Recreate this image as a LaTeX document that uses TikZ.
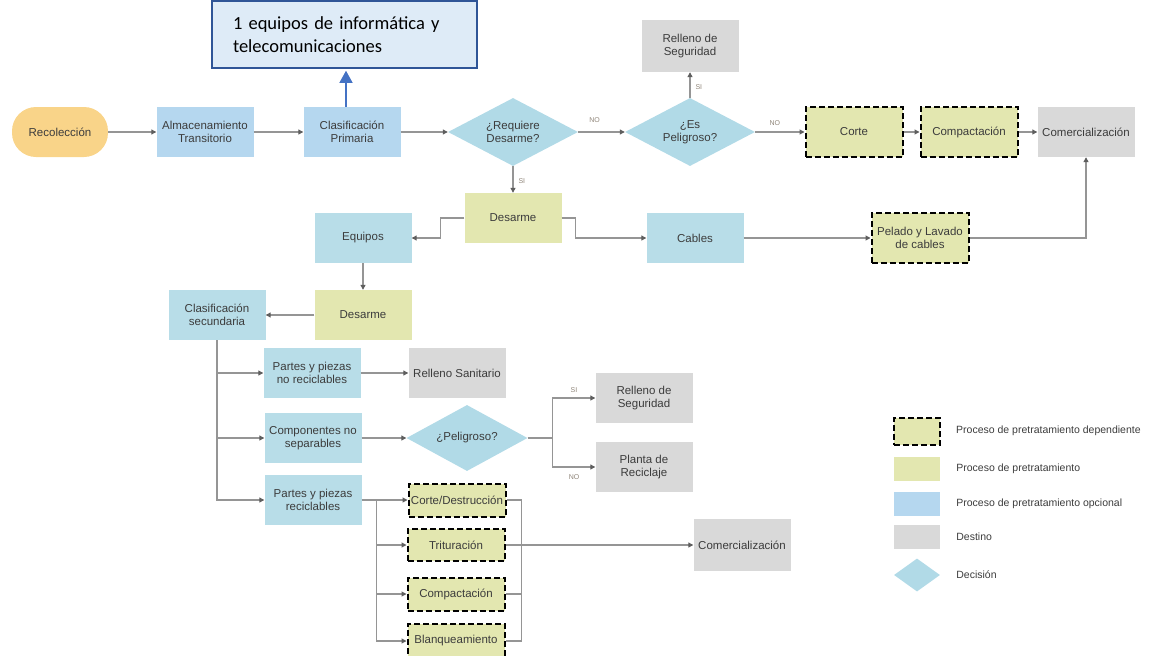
\documentclass[tikz,border=0pt]{standalone}
\usepackage{fontspec}
\setmainfont{Liberation Sans}
\newfontfamily\calfont{Carlito}
\usetikzlibrary{arrows.meta,shapes.geometric,positioning}

\definecolor{optblue}{HTML}{B5D7EF}
\definecolor{procblue}{HTML}{B8DDE8}
\definecolor{decblue}{HTML}{B1DAE7}
\definecolor{pretrat}{HTML}{E3E7B0}
\definecolor{destgray}{HTML}{D9D9D9}
\definecolor{recorange}{HTML}{F9D489}
\definecolor{linegray}{HTML}{959595}
\definecolor{tipgray}{HTML}{5E5E5E}
\definecolor{txtgray}{HTML}{3C3C3C}
\definecolor{notefill}{HTML}{DEEBF7}
\definecolor{noteline}{HTML}{2F5597}
\definecolor{notearrow}{HTML}{4472C4}
\definecolor{labgray}{HTML}{8F8579}

\begin{document}
\begin{tikzpicture}[x=1pt,y=-1pt,>={Triangle[length=5pt,width=5pt,color=tipgray]},
                    font=\fontsize{11.5}{13.5}\selectfont,text=txtgray]
  \tikzstyle{box}=[rectangle,inner sep=2pt,minimum width=97pt,minimum height=50pt,align=center]
  \tikzstyle{opt}=[box,fill=optblue]
  \tikzstyle{proc}=[box,fill=procblue]
  \tikzstyle{pre}=[box,fill=pretrat]
  \tikzstyle{dep}=[box,fill=pretrat,draw=black,line width=2pt,dash pattern=on 6pt off 3pt]
  \tikzstyle{dest}=[box,fill=destgray]
  \tikzstyle{dec}=[diamond,fill=decblue,inner sep=0pt,aspect=1.9,align=center,
                   minimum width=130pt,minimum height=68pt]
  \tikzstyle{lab}=[font=\fontsize{7}{8}\selectfont,text=labgray,inner sep=1pt]
  \tikzstyle{key}=[font=\fontsize{10.5}{12}\selectfont,inner sep=0pt,anchor=west]
  \tikzstyle{line}=[draw=linegray,line width=1.1pt]
  \tikzstyle{conn}=[line,->]

  \useasboundingbox (0,0) rectangle (1149,656);

  % upper row
  \node[box,fill=recorange,rounded corners=24pt,minimum width=96pt] (rec) at (60,132) {Recolección};
  \node[opt]  (alm) at (205,132) {Almacenamiento\\Transitorio};
  \node[opt]  (clp) at (352,132) {Clasificación\\Primaria};
  \node[dec]  (req) at (513,132) {¿Requiere\\Desarme?};
  \node[dec]  (pel) at (690,132) {¿Es\\Peligroso?};
  \node[dest,minimum height=52pt] (rsg) at (690,46) {Relleno de\\Seguridad};
  \node[dep]  (cor) at (854,132) {Corte};
  \node[dep]  (cmp) at (969,132) {Compactación};
  \node[dest] (com) at (1086,132) {Comercialización};

  \node[draw=noteline,fill=notefill,line width=1.5pt,minimum width=265pt,minimum height=67pt,
        inner xsep=21pt,text width=223pt,align=left,text=black,
        font=\calfont\fontsize{18.5}{23}\selectfont] (note) at (344.5,34.5)
        {1 equipos de informática y\\telecomunicaciones};

  % disassembly
  \node[pre]  (des) at (513,218) {Desarme};
  \node[proc] (equ) at (363,238) {Equipos};
  \node[proc] (cab) at (695,238) {Cables};
  \node[dep]  (lav) at (920,238) {Pelado y Lavado\\de cables};
  \node[pre]  (dsm) at (363,315) {Desarme};
  \node[proc] (cls) at (217,315) {Clasificación\\secundaria};

  % secondary classification
  \node[proc] (pnr) at (312,373) {Partes y piezas\\no reciclables};
  \node[dest] (san) at (457,373) {Relleno Sanitario};
  \node[proc] (cns) at (313,438) {Componentes no\\separables};
  \node[dec,minimum width=121pt,minimum height=66pt] (pgr) at (467,438) {¿Peligroso?};
  \node[dest] (rsl) at (644,398) {Relleno de\\Seguridad};
  \node[dest] (pla) at (644,467) {Planta de\\Reciclaje};
  \node[proc] (prc) at (313,500) {Partes y piezas\\reciclables};
  \node[dep,minimum height=33pt] (ctd) at (457,500) {Corte/Destrucción};
  \node[dep,minimum height=32pt] (tri) at (456,545) {Trituración};
  \node[dep,minimum height=33pt] (cpt) at (456,594) {Compactación};
  \node[dep,minimum height=34pt] (bla) at (456,641) {Blanqueamiento};
  \node[dest,minimum height=52pt] (cml) at (742,545) {Comercialización};

  % legend
  \node[dep,minimum width=46pt,minimum height=27pt]  (k1) at (917,431) {};
  \node[pre,minimum width=46pt,minimum height=24pt]  (k2) at (917,469) {};
  \node[opt,minimum width=46pt,minimum height=24pt]  (k3) at (917,504) {};
  \node[dest,minimum width=46pt,minimum height=24pt] (k4) at (917,537) {};
  \node[dec,minimum width=46pt,minimum height=33pt,aspect=1.4] (k5) at (917,575) {};
  \node[key,right=15pt of k1] {Proceso de pretratamiento dependiente};
  \node[key,right=16pt of k2] {Proceso de pretratamiento};
  \node[key,right=16pt of k3] {Proceso de pretratamiento opcional};
  \node[key,right=16pt of k4] {Destino};
  \node[key,right=16pt of k5] {Decisión};

  % connectors
  \coordinate (up) at ([xshift=-6pt]clp.north);
  \draw[draw=notearrow,line width=1.2pt,-{Triangle[length=12pt,width=13pt]},shorten >=2pt]
       (up) -- (up |- note.south);

  \path[conn] (rec) edge (alm)
              (alm) edge (clp)
              (clp) edge (req)
              (req) edge node[lab,above=8pt,pos=0.35] {NO} (pel)
                    edge node[lab,right=4pt,pos=0.55] {SI} (des)
              (pel) edge node[lab,right=4pt,pos=0.4] {SI} (rsg)
                    edge node[lab,above=5pt,pos=0.4] {NO} (cor)
              (cor) edge (cmp)
              (cmp) edge (com)
              (cab) edge (lav)
              (equ) edge (dsm)
              (dsm) edge (cls)
              (pnr) edge (san)
              (cns) edge (pgr)
              (prc) edge (ctd)
              (tri) edge (cml);

  \draw[conn] (des.west) -- ++(-24,0) |- (equ.east);
  \draw[conn] (des.east) -- ++(14,0) |- (cab.west);
  \draw[conn] (lav.east) -| (com.south);

  \draw[conn] (cls.south) |- (pnr.west);
  \draw[conn] (cls.south) |- (cns.west);
  \draw[conn] (cls.south) |- (prc.west);

  \draw[conn] (pgr.east) -- ++(25,0) |- node[lab,above=4pt,pos=0.75] {SI} (rsl.west);
  \draw[conn] (pgr.east) -- ++(25,0) |- node[lab,below=6pt,pos=0.75] {NO} (pla.west);

  \coordinate (spl) at ([xshift=15pt]prc.east);
  \draw[conn] (spl) |- (tri.west);
  \draw[conn] (spl) |- (cpt.west);
  \draw[conn] (spl) |- (bla.west);

  \coordinate (mrg) at ([xshift=16pt]tri.east);
  \draw[line] (ctd.east) -| (mrg);
  \draw[line] (cpt.east) -| (mrg);
  \draw[line] (bla.east) -| (mrg);
\end{tikzpicture}
\end{document}
